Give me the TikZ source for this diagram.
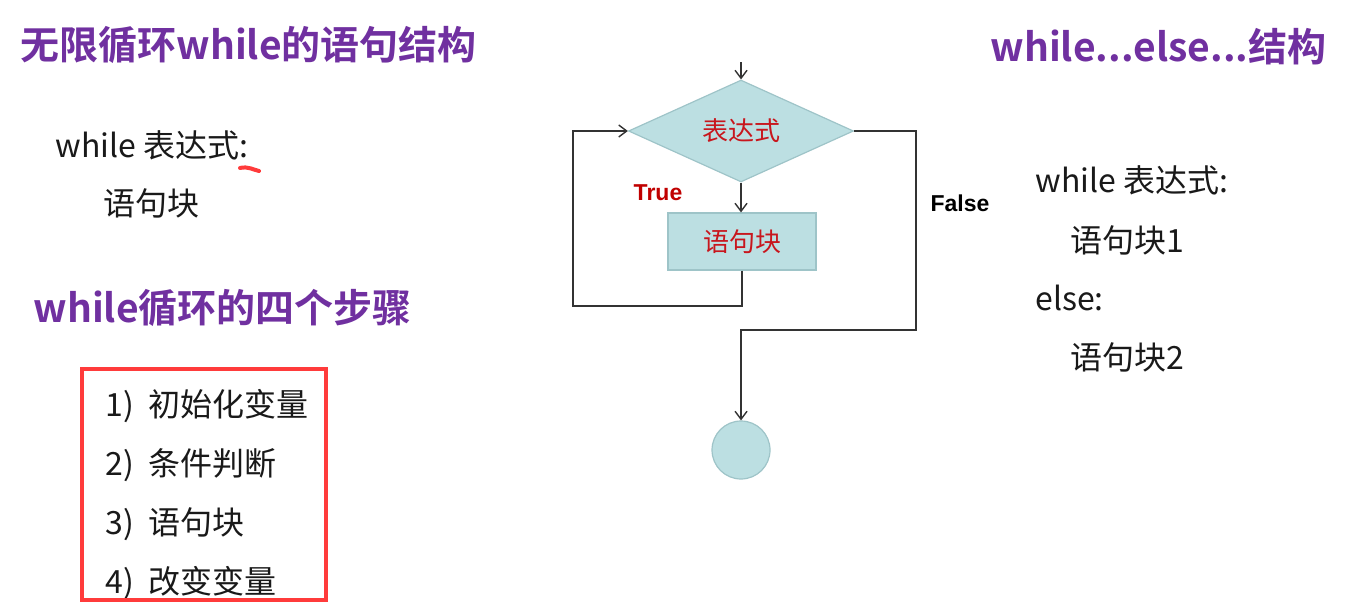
\documentclass[tikz,border=0pt]{standalone}
\usepackage{fontspec}
\setmainfont{Noto Sans CJK SC}[BoldFont={Noto Sans CJK SC Bold}]
\newfontfamily\arialfont{Liberation Sans}
\usepackage{xcolor}
\usetikzlibrary{arrows.meta,positioning,shapes.geometric}
\definecolor{titlepurple}{HTML}{7030A0}
\definecolor{boxfill}{HTML}{BCDFE2}
\definecolor{boxedge}{HTML}{9EC4C8}
\definecolor{condred}{HTML}{C8161D}
\definecolor{truered}{HTML}{C00000}
\definecolor{stepred}{HTML}{FF3B3B}
\definecolor{linegray}{HTML}{333333}
\tikzset{
	headline/.style={anchor=west, inner sep=0pt, text=titlepurple,
		font=\fontsize{19.5}{23}\selectfont\bfseries},
	codeline/.style={anchor=west, inner sep=0pt, text=black!90,
		font=\fontsize{16}{19}\selectfont},
	flowbox/.style={draw=boxedge, fill=boxfill, line width=0.6pt, inner sep=0pt,
		text=condred, font=\fontsize{13}{15}\selectfont},
	flowlabel/.style={inner sep=0pt, font=\arialfont\fontsize{11.5}{13}\selectfont\bfseries},
	arrow/.style={-{Straight Barb[length=4pt,width=6pt]}, line width=0.7pt, draw=linegray}
}

\begin{document}
\begin{tikzpicture}[x=0.5pt, y=-0.5pt]
	\useasboundingbox (0,0) rectangle (1347,605);
	
	%% -- Left column: infinite loop syntax
	\node[headline] (hdinf) at (20,45) {无限循环while的语句结构};
	\node[codeline] (infwhile) at (55,145) {while 表达式:};
	\node[codeline] (infblk) at (103,203) {语句块};
	\draw[stepred, line width=2pt, line cap=round]
	(240,168) .. controls (248,166) and (254,170) .. (259,171);
	
	%% -- Left column: four steps
	\node[headline] (hdsteps) at (33,308) {while循环的四个步骤};
	\foreach \txt [count=\i] in {初始化变量, 条件判断, 语句块, 改变变量}
	\node[codeline] (step\i) at (105,347+59*\i) {\i)\hspace{0.45em}\txt};
	\node[draw=stepred, line width=2pt, minimum width=122pt, minimum height=115.5pt,
	inner sep=0pt, anchor=north west] (stepframe) at (80,367) {};
	
	%% -- Flowchart nodes
	\node[diamond, flowbox, minimum width=112.5pt, minimum height=47.5pt]
	(cond) at (741,131) {表达式};
	\node[flowbox, minimum width=74pt, minimum height=28.5pt]
	(blk) at (742,241.5) {语句块};
	\node[circle, flowbox, minimum size=29pt] (endc) at (741,450) {};
	
	\coordinate (entry) at (741,62);
	\coordinate (loopL) at (573,306);
	\coordinate (falseR) at (916,330);
	
	%% -- Flowchart edges
	\draw[arrow] (entry) -- (cond.north);
	\draw[arrow] (cond.south) -- (cond.south |- blk.north);
	\draw[arrow] (blk.south) |- (loopL) |- (cond.west);
	\draw[arrow] (cond.east) -| (falseR) -| (endc.north);
	
	\node[flowlabel, text=truered] (truelbl) at (658,193) {True};
	\node[flowlabel, text=black] (falselbl) at (960,203) {False};
	
	%% -- Right column: while...else
	\node[headline] (hdelse) at (990,47) {while...else...结构};
	\node[codeline] (elsewhile) at (1035,180) {while 表达式:};
	\node[codeline] (elseblk1) at (1070,240) {语句块1};
	\node[codeline] (elsekw) at (1035,298) {else:};
	\node[codeline] (elseblk2) at (1070,357) {语句块2};
	
\end{tikzpicture}
\end{document}
